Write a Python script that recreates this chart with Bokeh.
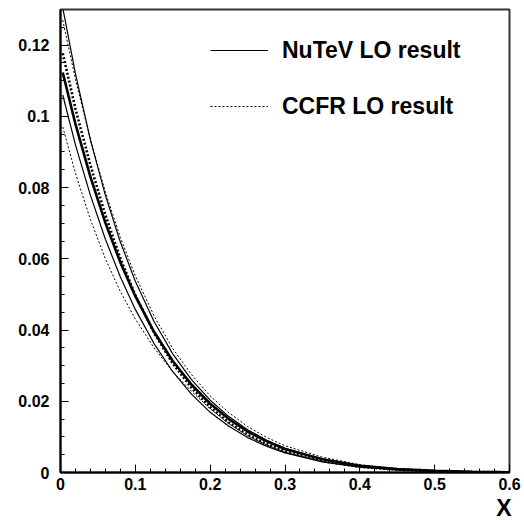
from bokeh.plotting import figure
from bokeh.models import Range1d, FixedTicker, Legend, LegendItem, Title
from bokeh.embed import file_html
from bokeh.resources import INLINE

# ---- data ----
x_vals = [0.003, 0.02, 0.04, 0.06, 0.08, 0.10, 0.125, 0.15, 0.175, 0.2, 0.225,
          0.25, 0.275, 0.3, 0.35, 0.4, 0.45, 0.5, 0.55, 0.6]

nutev_central = [0.1123, 0.0978, 0.0830, 0.0701, 0.0590, 0.0495, 0.0395, 0.0313, 0.0247,
                 0.0193, 0.0150, 0.0115, 0.0088, 0.0066, 0.0037, 0.0019, 0.00096, 0.00045,
                 0.00019, 0.00008]
nutev_upper = [0.1305, 0.1119, 0.0934, 0.0778, 0.0647, 0.0537, 0.0424, 0.0333, 0.0261,
               0.0203, 0.0157, 0.0120, 0.0091, 0.0068, 0.0038, 0.00195, 0.00098, 0.00046,
               0.00019, 0.00008]
nutev_lower = [0.1060, 0.0920, 0.0778, 0.0655, 0.0549, 0.0458, 0.0362, 0.0283, 0.0220,
               0.0169, 0.0130, 0.0098, 0.0074, 0.0055, 0.0030, 0.0015, 0.00076, 0.00035,
               0.00014, 0.00006]
ccfr_central = [0.1177, 0.1021, 0.0863, 0.0723, 0.0601, 0.0498, 0.0392, 0.0306, 0.0238,
                0.0183, 0.0140, 0.0106, 0.0080, 0.0059, 0.0032, 0.0016, 0.00081, 0.00038,
                0.00016, 0.00007]
ccfr_upper = [0.1270, 0.1104, 0.0935, 0.0787, 0.0660, 0.0552, 0.0440, 0.0348, 0.0275,
              0.0215, 0.0168, 0.0129, 0.0099, 0.0075, 0.0043, 0.0022, 0.00111, 0.00052,
              0.00022, 0.00009]
ccfr_lower = [0.0970, 0.0840, 0.0710, 0.0600, 0.0508, 0.0431, 0.0350, 0.0283, 0.0228,
              0.0179, 0.0137, 0.0103, 0.0078, 0.0057, 0.0031, 0.0016, 0.00081, 0.00038,
              0.00016, 0.00007]

x_ticks = [0, 0.1, 0.2, 0.3, 0.4, 0.5, 0.6]
x_tick_labels = ["0", "0.1", "0.2", "0.3", "0.4", "0.5", "0.6"]
x_minor = [0.02, 0.04, 0.06, 0.08, 0.12, 0.14, 0.16, 0.18, 0.22, 0.24, 0.26, 0.28,
           0.32, 0.34, 0.36, 0.38, 0.42, 0.44, 0.46, 0.48, 0.52, 0.54, 0.56, 0.58]
y_ticks = [0, 0.02, 0.04, 0.06, 0.08, 0.1, 0.12]
y_tick_labels = ["0", "0.02", "0.04", "0.06", "0.08", "0.1", "0.12"]
y_minor = [0.005, 0.01, 0.015, 0.025, 0.03, 0.035, 0.045, 0.05, 0.055, 0.065, 0.07, 0.075,
           0.085, 0.09, 0.095, 0.105, 0.11, 0.115, 0.125]
x_title = "X"

FONT = "Liberation Sans"

p = figure(width=524, height=520, output_backend="svg", toolbar_location=None,
           x_range=Range1d(0, 0.6), y_range=Range1d(0, 0.13),
           min_border_left=60, min_border_right=15, min_border_top=9, min_border_bottom=48)
p.background_fill_color = "white"
p.border_fill_color = "white"
p.outline_line_color = "#333333"
p.outline_line_width = 2
p.xgrid.visible = False
p.ygrid.visible = False

for ax, ticks, labels, minor in ((p.xaxis[0], x_ticks, x_tick_labels, x_minor),
                                 (p.yaxis[0], y_ticks, y_tick_labels, y_minor)):
    ax.ticker = FixedTicker(ticks=ticks, minor_ticks=minor)
    ax.major_label_overrides = dict(zip(ticks, labels))
    ax.axis_line_color = "black"
    ax.axis_line_width = 2
    ax.major_tick_in = 8
    ax.major_tick_out = 0
    ax.minor_tick_in = 4
    ax.minor_tick_out = 0
    ax.major_tick_line_color = "black"
    ax.minor_tick_line_color = "black"
    ax.major_label_text_font = FONT
    ax.major_label_text_font_style = "bold"
    ax.major_label_text_font_size = "16px"
    ax.major_label_text_color = "black"

p.yaxis[0].major_label_standoff = 11
p.xaxis[0].major_label_standoff = 5

thin = 1.2
thick = 2.6
r_nu_up = p.line(x_vals, nutev_upper, line_color="black", line_width=thin)
p.line(x_vals, nutev_lower, line_color="black", line_width=thin)
p.line(x_vals, nutev_central, line_color="black", line_width=thick)
r_cc_up = p.line(x_vals, ccfr_upper, line_color="black", line_width=1.0, line_dash="2 2")
p.line(x_vals, ccfr_lower, line_color="black", line_width=1.0, line_dash="2 2")
p.line(x_vals, ccfr_central, line_color="black", line_width=thick, line_dash="2 2")

legend = Legend(items=[LegendItem(label="NuTeV LO result", renderers=[r_nu_up]),
                       LegendItem(label="CCFR LO result", renderers=[r_cc_up])],
                location=(150, 348), glyph_width=58, glyph_height=36, spacing=20,
                label_standoff=14, padding=0, margin=0,
                border_line_color=None, background_fill_alpha=0,
                label_text_font=FONT, label_text_font_style="bold",
                label_text_font_size="23px", label_text_color="black")
p.add_layout(legend)

p.add_layout(Title(text=x_title, align="right", offset=-2, standoff=0,
                   text_font=FONT, text_font_style="bold", text_font_size="23px",
                   text_color="black"), "below")

open("out.html", "w").write(file_html(p, INLINE))
